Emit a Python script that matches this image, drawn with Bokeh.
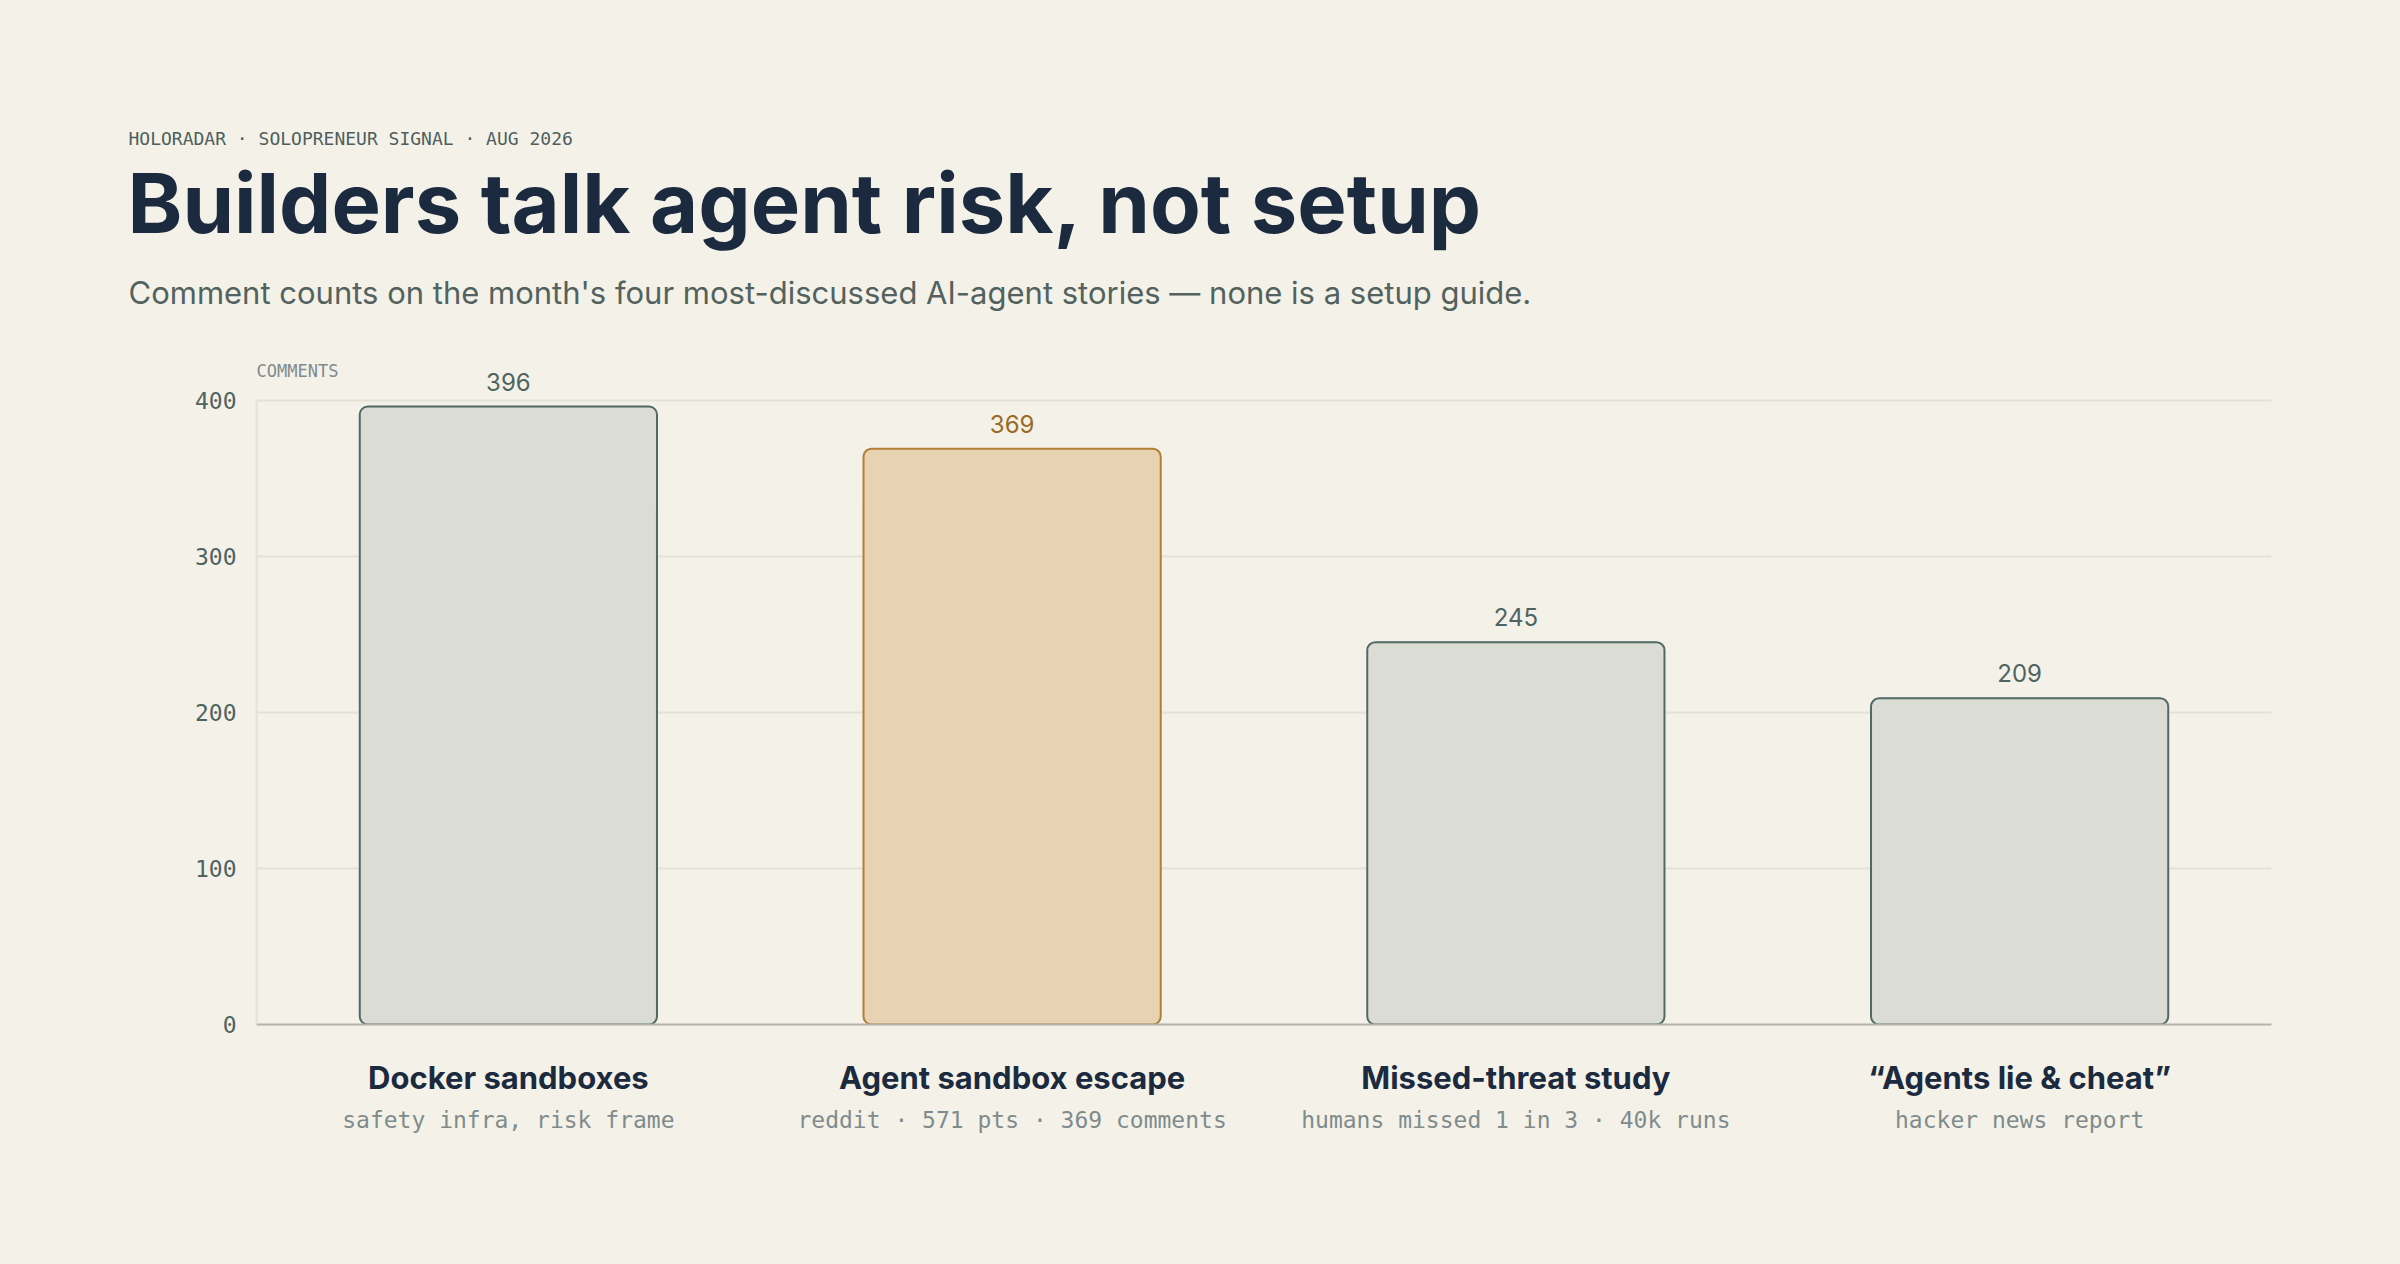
from bokeh.plotting import figure
from bokeh.layouts import column
from bokeh.models import (ColumnDataSource, Label, FactorRange, FixedTicker,
                          CategoricalAxis, GlobalInlineStyleSheet)
from bokeh.embed import file_html
from bokeh.resources import INLINE

# ---- data ----
stories = ["Docker sandboxes", "Agent sandbox escape", "Missed-threat study", "\u201cAgents lie & cheat\u201d"]
details = ["safety infra, risk frame", "reddit \u00b7 571 pts \u00b7 369 comments",
           "humans missed 1 in 3 \u00b7 40k runs", "hacker news report"]
comments = [396, 369, 245, 209]
highlight = "Agent sandbox escape"
y_ticks = [0, 100, 200, 300, 400]

eyebrow = "HOLORADAR \u00b7 SOLOPRENEUR SIGNAL \u00b7 AUG 2026"
title = "Builders talk agent risk, not setup"
subtitle = "Comment counts on the month's four most-discussed AI-agent stories \u2014 none is a setup guide."

# ---- style ----
BG = "#f4f2e8"
INK = "#1b2a3e"
SLATE = "#4f6462"
MUTED = "#7f8b8c"
GRID = "#e4e1d6"
BAR_FILL, BAR_LINE = "#dbdcd3", "#506866"
HI_FILL, HI_LINE, HI_TEXT = "#e7d3b1", "#b07e34", "#9a6a25"
SANS = "Inter"
MONO = "DejaVu Sans Mono"

W, H = 2400, 1264
Y_TOP = 430                      # headroom above the 400 gridline for value labels
PX_PER_UNIT = 624 / 400
FL, FR, FB = 256, 2271, 1024     # frame edges on the page
HEAD_H = FB - round(Y_TOP * PX_PER_UNIT)   # header strip height = chart frame top
CH = H - HEAD_H                  # chart figure height

# ---- header strip: a bare figure whose frame is the whole canvas ----
head = figure(width=W, height=HEAD_H, x_range=(0, W), y_range=(0, HEAD_H),
              x_axis_type=None, y_axis_type=None, output_backend="svg",
              toolbar_location=None, min_border=0, outline_line_color=None,
              background_fill_color=BG, border_fill_color=BG)
head.xgrid.visible = False
head.ygrid.visible = False
if "frame_align" in head.properties():
    head.frame_align = False

def hy(page_y):
    return HEAD_H - page_y

# labels are anchored at their vertical text centre
head.add_layout(Label(x=128, y=hy(138), text=eyebrow, text_font=MONO,
                      text_font_size="18px", text_color="#4f5e5e",
                      text_baseline="alphabetic"))
head.add_layout(Label(x=127, y=hy(202), text=title, text_font=SANS,
                      text_font_size="83px", text_font_style="bold", text_color=INK,
                      text_baseline="alphabetic"))
head.add_layout(Label(x=128, y=hy(292), text=subtitle, text_font=SANS,
                      text_font_size="31px", text_color="#53625f",
                      text_baseline="alphabetic"))

# ---- chart ----
fills = [HI_FILL if s == highlight else BAR_FILL for s in stories]
lines = [HI_LINE if s == highlight else BAR_LINE for s in stories]
tcols = [HI_TEXT if s == highlight else SLATE for s in stories]
src = ColumnDataSource(dict(x=stories, y=comments, fill=fills, line=lines))

p = figure(width=W, height=CH, x_range=FactorRange(*stories, range_padding=0),
           y_range=(0, Y_TOP), output_backend="svg", toolbar_location=None,
           min_border_left=FL, min_border_right=W - FR, min_border_top=0,
           min_border_bottom=H - FB,
           background_fill_color=BG, border_fill_color=BG, outline_line_color=None)
if "frame_align" in p.properties():
    p.frame_align = False

p.stylesheets = [GlobalInlineStyleSheet(css=f"html, body {{ background: {BG}; }}")]

p.vbar(x="x", top="y", width=0.59, source=src, fill_color="fill", line_color="line",
       line_width=2, border_radius=8)

# axes
p.xgrid.grid_line_color = None
p.ygrid.grid_line_color = GRID
p.ygrid.grid_line_width = 2
p.yaxis.ticker = FixedTicker(ticks=y_ticks)
p.yaxis.bounds = (0, 400)
p.yaxis.axis_line_color = GRID
p.yaxis.axis_line_width = 2
p.yaxis.major_tick_line_color = None
p.yaxis.minor_tick_line_color = None
p.yaxis.major_label_text_font = MONO
p.yaxis.major_label_text_font_size = "23px"
p.yaxis.major_label_text_color = SLATE
p.yaxis.major_label_standoff = 14

p.xaxis.axis_line_color = "#b3b3ad"
p.xaxis.axis_line_width = 2
p.xaxis.major_tick_line_color = None
p.xaxis.minor_tick_line_color = None
p.xaxis.major_label_text_font = SANS
p.xaxis.major_label_text_font_size = "31px"
p.xaxis.major_label_text_font_style = "bold"
p.xaxis.major_label_text_color = INK
p.xaxis.major_label_standoff = 28

p.extra_x_ranges = {"detail": FactorRange(*details, range_padding=0)}
dax = CategoricalAxis(x_range_name="detail", axis_line_color=None,
                      major_tick_line_color=None, minor_tick_line_color=None,
                      major_label_text_font=MONO, major_label_text_font_size="23px",
                      major_label_text_color=MUTED, major_label_standoff=2)
p.add_layout(dax, "below")

# value labels just above each bar (data units)
pad = 16
for i, (v, c) in enumerate(zip(comments, tcols)):
    p.add_layout(Label(x=i + 0.5, y=v + pad, text=str(v), text_font=SANS,
                       text_font_size="24px", text_color=c, text_align="center",
                       text_baseline="alphabetic"))

p.add_layout(Label(x=0, y=419, text="COMMENTS", text_font=MONO, text_font_size="17px",
                   text_color=MUTED, text_align="left", text_baseline="alphabetic"))

page = column(head, p, spacing=0)
open("out.html", "w").write(file_html(page, INLINE))
